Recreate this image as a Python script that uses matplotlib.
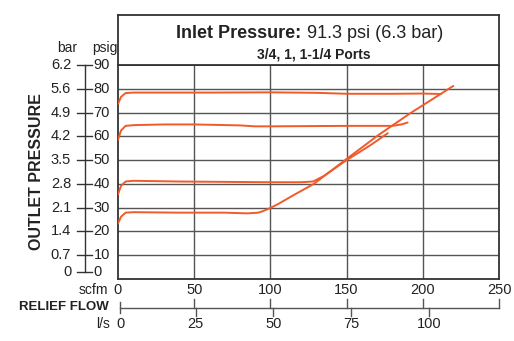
import numpy as np
import matplotlib
matplotlib.use("Agg")
import matplotlib.pyplot as plt
import matplotlib.transforms as mtransforms

plt.rcParams['font.family'] = ['Liberation Sans', 'DejaVu Sans']

# Axis scales
psig_ticks = [0, 10, 20, 30, 40, 50, 60, 70, 80, 90]
bar_labels = ['0', '0.7', '1.4', '2.1', '2.8', '3.5', '4.2', '4.9', '5.6', '6.2']
scfm_ticks = [0, 50, 100, 150, 200, 250]
ls_ticks = [0, 25, 50, 75, 100]
ls_to_scfm = 2.04  # as drawn on the chart

# Outlet pressure curves (scfm, psig)
top_x = [0, 2, 5, 10, 30, 60, 100, 130, 145, 150, 180, 200, 212]
top_y = [73.6, 76.6, 78.2, 78.4, 78.4, 78.4, 78.5, 78.3, 78.0, 77.9, 77.9, 78.0, 77.8]

mid_x = [0, 2, 5, 10, 30, 50, 80, 90, 100, 150, 180, 186, 190]
mid_y = [58.5, 62.5, 64.4, 64.7, 65.0, 65.0, 64.6, 64.2, 64.2, 64.4, 64.4, 65.0, 65.8]

low_x = [0, 2, 5, 10, 40, 80, 100, 120, 128, 135, 150, 165, 177]
low_y = [35.6, 39.2, 41.0, 41.3, 41.0, 40.8, 40.7, 40.7, 41.0, 43.3, 50.0, 56.0, 61.3]

bot_x = [0, 2, 5, 10, 40, 70, 85, 92, 95, 99, 105, 115, 128.5, 149, 171, 192, 220]
bot_y = [23.4, 26.2, 27.9, 28.1, 27.9, 27.9, 27.6, 27.9, 28.5, 29.6, 31.5, 35.2, 40.0, 50.0, 60.6, 69.8, 81.2]

W, H = 514, 341
fig = plt.figure(figsize=(W / 100, H / 100), dpi=100)
ax = fig.add_axes([118 / W, 1 - 279 / H, 381 / W, 214 / H])
hdr = fig.add_axes([118 / W, 1 - 65 / H, 381 / W, 50 / H])
rf = fig.add_axes([118 / W, 1 - 316 / H, 381 / W, 17 / H])

edge = '#333333'
gridc = '#555555'
orange = '#f15a29'

# main plot
ax.set_xlim(0, 250)
ax.set_ylim(0, 90)
ax.set_xticks([])
ax.set_yticks([])
for s in ax.spines.values():
    s.set_color(edge)
    s.set_linewidth(1.3)
for v in psig_ticks[1:-1]:
    ax.axhline(v, color=gridc, lw=1.0, zorder=1)
for v in scfm_ticks[1:-1]:
    ax.axvline(v, color=gridc, lw=1.0, zorder=1)

for xs, ys in [(top_x, top_y), (mid_x, mid_y), (low_x, low_y), (bot_x, bot_y)]:
    ax.plot(xs, ys, color=orange, lw=1.4, zorder=3, solid_capstyle='round')

# left double axis (bar / psig)
tr = mtransforms.blended_transform_factory(ax.transAxes, ax.transData)
zero_lift = 3.1  # zero row is nudged up above the scfm label
ypos = [v + (zero_lift if v == 0 else 0) for v in psig_ticks]
ax.plot([-0.0866, -0.0866], [ypos[0], ypos[-1]], color=edge, lw=1.0,
        transform=tr, clip_on=False)
for y, p, b in zip(ypos, psig_ticks, bar_labels):
    ax.plot([-0.108, -0.068], [y, y], color=edge, lw=1.0, transform=tr, clip_on=False)
    ax.text(-0.123, y, b, ha='right', va='center', fontsize=10.5,
            color='#222222', transform=tr)
    ax.text(-0.064, y, str(p), ha='left', va='center', fontsize=10.5,
            color='#222222', transform=tr)
fig.text(67 / W, 1 - 48 / H, 'bar', ha='center', va='center', fontsize=10, color='#222222')
fig.text(92 / W, 1 - 48 / H, 'psig', ha='left', va='center', fontsize=10, color='#222222')
fig.text(37 / W, 1 - 172 / H, 'OUTLET PRESSURE', rotation=90, ha='center', va='center',
         fontsize=11.5, fontweight='bold', color='#222222')

# scfm labels under the box
trx = mtransforms.blended_transform_factory(ax.transData, fig.transFigure)
for v in scfm_ticks:
    ax.text(v, 1 - 290 / H, str(v), ha='center', va='center', fontsize=10.5,
            color='#222222', transform=trx)
fig.text(108 / W, 1 - 290 / H, 'scfm', ha='right', va='center', fontsize=10, color='#222222')

# relief flow scale
rf.set_xlim(0, 250)
rf.set_ylim(-1, 1)
rf.axis('off')
rf.plot([scfm_ticks[0] + 1.5, scfm_ticks[-1]], [0, 0], color='#555555', lw=1.0, clip_on=False)
rf.plot([1.5, 1.5], [-0.6, 0.6], color='#555555', lw=1.0, clip_on=False)
for v in scfm_ticks[1:]:
    rf.plot([v, v], [0, 1], color='#555555', lw=1.0, clip_on=False)
for v in ls_ticks[1:]:
    rf.plot([v * ls_to_scfm, v * ls_to_scfm], [-1, 0], color='#555555', lw=1.0, clip_on=False)
for v in ls_ticks:
    rf.text(v * ls_to_scfm + (1.5 if v == 0 else 0), 1 - 324 / H, str(v), ha='center',
            va='center', fontsize=10.5, color='#222222',
            transform=mtransforms.blended_transform_factory(rf.transData, fig.transFigure))
fig.text(109 / W, 1 - 307 / H, 'RELIEF FLOW', ha='right', va='center', fontsize=9.5,
         fontweight='bold', color='#222222')
fig.text(110 / W, 1 - 324 / H, 'l/s', ha='right', va='center', fontsize=10, color='#222222')

# header box
hdr.set_xticks([])
hdr.set_yticks([])
for s in hdr.spines.values():
    s.set_color(edge)
    s.set_linewidth(1.3)
hdr.text(0.482, 0.53, 'Inlet Pressure:', ha='right', va='baseline', fontsize=13,
         fontweight='bold', color='#222222', transform=hdr.transAxes)
hdr.text(0.482, 0.53, ' 91.3 psi (6.3 bar)', ha='left', va='baseline', fontsize=13,
         color='#222222', transform=hdr.transAxes)
hdr.text(0.514, 0.13, '3/4, 1, 1-1/4 Ports', ha='center', va='baseline', fontsize=10,
         fontweight='bold', color='#222222', transform=hdr.transAxes)

fig.savefig('out.png', dpi=100)
